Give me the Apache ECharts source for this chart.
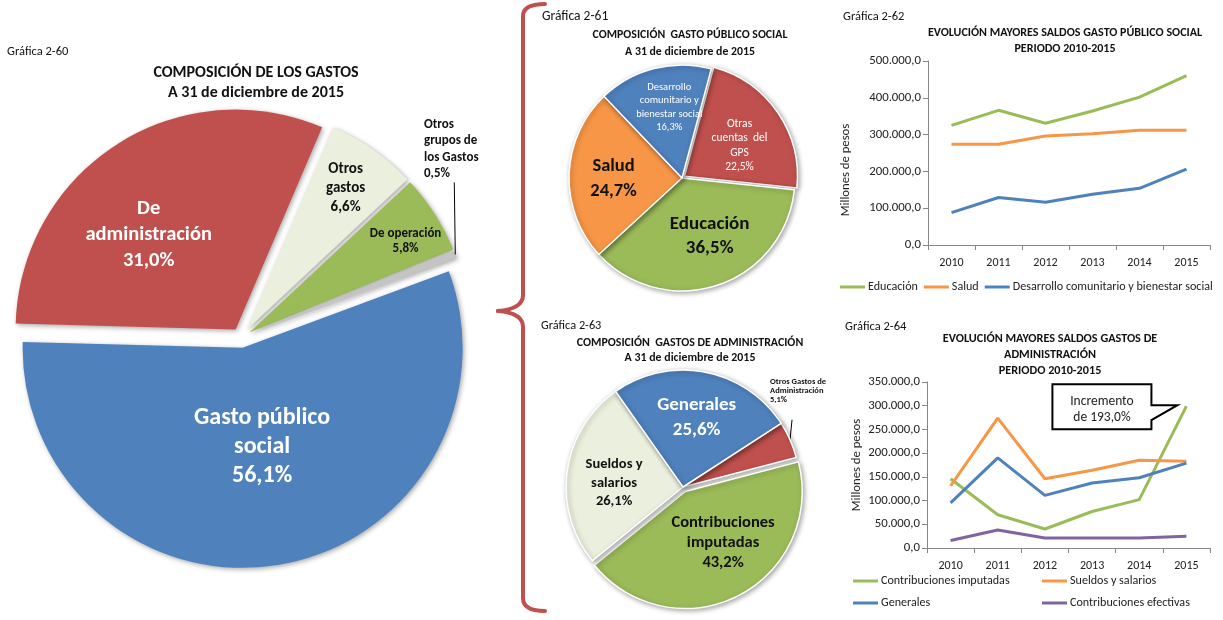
<!DOCTYPE html>
<html>
<head>
<meta charset="utf-8">
<script src="https://cdn.jsdelivr.net/npm/echarts@6/dist/echarts.min.js"></script>
<style>
  html, body { margin: 0; padding: 0; background: #fff; }
  #chart { width: 1223px; height: 620px; }
</style>
</head>
<body>
<div id="chart"></div>
<script>
// ---- Gráfica 2-60: composición de los gastos (%)
const gastosNombres = ['Gasto público social', 'De administración', 'Otros gastos', 'De operación', 'Otros grupos de los Gastos'];
const gastosEtiquetas = ['Gasto público\nsocial', 'De\nadministración', 'Otros\ngastos', 'De operación', 'Otros\ngrupos de\nlos Gastos'];
const gastosPct = [56.1, 31.0, 6.6, 5.8, 0.5];

// ---- Gráfica 2-61: composición gasto público social (%)
const gpsNombres = ['Otras cuentas del GPS', 'Educación', 'Salud', 'Desarrollo comunitario y bienestar social'];
const gpsEtiquetas = ['Otras\ncuentas  del\nGPS', 'Educación', 'Salud', 'Desarrollo\ncomunitario y\nbienestar social'];
const gpsPct = [22.5, 36.5, 24.7, 16.3];

// ---- Gráfica 2-63: composición gastos de administración (%)
const admNombres = ['Otros Gastos de Administración', 'Contribuciones imputadas', 'Sueldos y salarios', 'Generales'];
const admEtiquetas = ['Otros Gastos de\nAdministración', 'Contribuciones\nimputadas', 'Sueldos y\nsalarios', 'Generales'];
const admPct = [5.1, 43.2, 26.1, 25.6];

// ---- Años de las series
const anios = ['2010', '2011', '2012', '2013', '2014', '2015'];

// ---- Gráfica 2-62: mayores saldos gasto público social (millones de pesos)
const educacion = [325000, 366000, 331000, 364000, 402000, 460000];
const salud = [274000, 274000, 296000, 302000, 312000, 312000];
const desarrollo = [88000, 129000, 116000, 138000, 154000, 206000];

// ---- Gráfica 2-64: mayores saldos gastos de administración (millones de pesos)
const contribImputadas = [146000, 70000, 40000, 77000, 102000, 299000];
const sueldosSalarios = [131000, 274000, 146000, 164000, 185000, 183000];
const generales = [95000, 190000, 111000, 137000, 148000, 179000];
const contribEfectivas = [16000, 38000, 21000, 21000, 21000, 25000];

// ---- Estilos
const FONT = 'Carlito, Lato, "Open Sans", sans-serif';
const VERDE = '#9BBB59', NARANJA = '#F79646', AZUL = '#4F81BD', ROJO = '#C0504D', MORADO = '#8064A2', CREMA = '#EBF0DE', GRIS = '#C4C4C4';

const pct = v => v.toFixed(1).replace('.', ',') + '%';
const miles = v => String(Math.round(v)).replace(/\B(?=(\d{3})+(?!\d))/g, '.') + ',0';

const sombra = { shadowBlur: 5, shadowColor: 'rgba(0,0,0,0.35)', shadowOffsetX: 1.5, shadowOffsetY: 1.5 };

// geometría de la torta principal
const TORTA1 = { center: [241, 338], radius: 220, startAngle: 20.4, offset: 10 };

// label style per slice
const gastosColores = [AZUL, ROJO, CREMA, VERDE, GRIS];
const gastosLabel = [
  { color: '#fff', fontSize: 24, lineHeight: 29 },
  { color: '#fff', fontSize: 20.5, lineHeight: 26 },
  { color: '#111', fontSize: 15, lineHeight: 19 },
  { color: '#111', fontSize: 13, lineHeight: 15.5 },
  { show: false }
];
const gastosDesplaz = [[1, -12], [-26, 0], [34, -49], [61, -30.5], [0, 0]];

const gpsColores = [ROJO, VERDE, NARANJA, AZUL];
const gpsLabel = [
  { color: '#fff', fontSize: 11.5, lineHeight: 14.5, fontWeight: 'normal' },
  { color: '#111', fontSize: 19, lineHeight: 24 },
  { color: '#111', fontSize: 18.5, lineHeight: 25 },
  { color: '#fff', fontSize: 10.5, lineHeight: 13.5, fontWeight: 'normal' }
];
const gpsDesplaz = [[6, 3], [9, 2], [-9, 2.5], [2, -13]];

const admColores = [ROJO, VERDE, CREMA, AZUL];
const admLabel = [
  { color: '#111', fontSize: 8.5, lineHeight: 8.8, position: 'outside' },
  { color: '#111', fontSize: 16.5, lineHeight: 20 },
  { color: '#111', fontSize: 14.5, lineHeight: 18.5 },
  { color: '#fff', fontSize: 19, lineHeight: 25 }
];
const admDesplaz = [[0, 0], [10, -3], [-8, 4.5], [2, -9]];

function datosPie(nombres, etiquetas, valores, colores, estilos, seleccion) {
  return nombres.map((n, i) => ({
    name: n,
    value: valores[i],
    selected: seleccion[i],
    itemStyle: { color: colores[i] },
    label: Object.assign({ formatter: etiquetas[i] + '\n' + pct(valores[i]) }, estilos[i]),
    labelLine: { show: estilos[i].position === 'outside', length: 10, length2: 0, lineStyle: { color: '#000', width: 1 } }
  }));
}

function titulo(x, y, texto, size, weight, lh) {
  return { text: texto, left: x, top: y, padding: 0, textAlign: weight === 'bold' ? 'center' : 'left',
    textStyle: { fontFamily: FONT, fontSize: size, fontWeight: weight, color: '#111', lineHeight: lh } };
}

// sets an outside label straight above the point where its leader leaves the slice
function etiquetaVertical(p, s, dx, subida, largo) {
  const r = p.labelRect;
  const fin = [s[0] + dx * 0.25, s[1] - largo];
  return {
    dx: (s[0] + dx) - (r.x + r.width / 2),
    dy: (s[1] - subida) - (r.y + r.height / 2),
    labelLinePoints: [s, fin, fin]
  };
}

const chart = echarts.init(document.getElementById('chart'), null, { renderer: 'canvas' });

const ejeX = (g) => ({
  type: 'category', gridIndex: g, data: anios, boundaryGap: true,
  axisLine: { lineStyle: { color: '#868686', width: 1 } },
  axisTick: { show: true, alignWithLabel: false, length: 5, lineStyle: { color: '#868686' } },
  axisLabel: { fontFamily: FONT, fontSize: 12, color: '#222', margin: 12 }
});
const ejeY = (g, max, step, gap, pad) => ({
  type: 'value', gridIndex: g, min: 0, max: max, interval: step,
  name: 'Millones de pesos', nameLocation: 'middle', nameGap: gap,
  nameTextStyle: { fontFamily: FONT, fontSize: 12.7, color: '#222', padding: pad },
  splitLine: { show: false },
  axisLine: { show: true, lineStyle: { color: '#868686', width: 1 } },
  axisTick: { show: true, length: 5, lineStyle: { color: '#868686' } },
  axisLabel: { fontFamily: FONT, fontSize: 12.8, color: '#222', margin: 7, formatter: miles }
});
const linea = (nombre, datos, color, g) => ({
  type: 'line', name: nombre, data: datos, xAxisIndex: g, yAxisIndex: g,
  showSymbol: false, symbol: 'none', smooth: false,
  lineStyle: { color: color, width: 3 }, itemStyle: { color: color },
  emphasis: { disabled: true }, z: 3
});
const leyenda = (items, x, y) => ({
  data: items, left: x, top: y, icon: 'rect', itemWidth: 25, itemHeight: 3, itemGap: 6,
  padding: 0, selectedMode: false,
  textStyle: { fontFamily: FONT, fontSize: 12.1, color: '#222', padding: [0, 0, 0, -2] }
});

// llave roja que agrupa las gráficas de la derecha
const trazoLlave = { fill: 'none', stroke: ROJO, lineWidth: 4, lineCap: 'round' };
const llave = {
  type: 'group', z: 10,
  children: [
    { type: 'bezierCurve', shape: { x1: 545, y1: 4, cpx1: 523, cpy1: 4, x2: 523, y2: 16 }, style: trazoLlave },
    { type: 'line', shape: { x1: 523, y1: 16, x2: 523, y2: 295 }, style: trazoLlave },
    { type: 'bezierCurve', shape: { x1: 523, y1: 295, cpx1: 523, cpy1: 309, x2: 498, y2: 311 }, style: trazoLlave },
    { type: 'bezierCurve', shape: { x1: 498, y1: 311, cpx1: 523, cpy1: 313, x2: 523, y2: 327 }, style: trazoLlave },
    { type: 'line', shape: { x1: 523, y1: 327, x2: 523, y2: 598 }, style: trazoLlave },
    { type: 'bezierCurve', shape: { x1: 523, y1: 598, cpx1: 523, cpy1: 611, x2: 545, y2: 611 }, style: trazoLlave }
  ]
};

const option = {
  animation: false,
  backgroundColor: '#fff',
  title: [
    titulo(7, 45, 'Gráfica 2-60', 12.5, 'normal'),
    titulo(256, 63, 'COMPOSICIÓN DE LOS GASTOS\nA 31 de diciembre de 2015', 16, 'bold', 20),
    titulo(542, 10, 'Gráfica 2-61', 13.5, 'normal'),
    titulo(690, 26.5, 'COMPOSICIÓN  GASTO PÚBLICO SOCIAL\nA 31 de diciembre de 2015', 11.8, 'bold', 17),
    titulo(843, 10, 'Gráfica 2-62', 12.5, 'normal'),
    titulo(1065, 25, 'EVOLUCIÓN MAYORES SALDOS GASTO PÚBLICO SOCIAL\nPERIODO 2010-2015', 12, 'bold', 16),
    titulo(541, 320, 'Gráfica 2-63', 12.3, 'normal'),
    titulo(690, 335, 'COMPOSICIÓN  GASTOS DE ADMINISTRACIÓN\nA 31 de diciembre de 2015', 11.9, 'bold', 15.5),
    titulo(845, 320, 'Gráfica 2-64', 12.5, 'normal'),
    titulo(1050, 331, 'EVOLUCIÓN MAYORES SALDOS GASTOS DE\nADMINISTRACIÓN\nPERIODO 2010-2015', 12.2, 'bold', 16)
  ],
  legend: [
    leyenda(['Educación', 'Salud', 'Desarrollo comunitario y bienestar social'], 840, 281),
    leyenda(['Contribuciones imputadas'], 853, 575),
    leyenda(['Sueldos y salarios'], 1042, 575),
    leyenda(['Generales'], 853, 597),
    leyenda(['Contribuciones efectivas'], 1042, 597)
  ],
  grid: [
    { left: 928, top: 61, width: 282, height: 184 },
    { left: 927, top: 382, width: 283, height: 166 }
  ],
  xAxis: [ejeX(0), ejeX(1)],
  yAxis: [ejeY(0, 500000, 100000, 76, [0, 34, 0, 0]), ejeY(1, 350000, 50000, 64, 0)],
  series: [
    {
      type: 'pie', name: 'Composición de los gastos',
      center: TORTA1.center, radius: TORTA1.radius, startAngle: TORTA1.startAngle, clockwise: true,
      selectedMode: 'multiple', selectedOffset: TORTA1.offset, avoidLabelOverlap: false,
      emphasis: { disabled: true },
      select: { itemStyle: { borderColor: '#fff', borderWidth: 0 } },
      itemStyle: Object.assign({ borderColor: '#fff', borderWidth: 0 }, sombra),
      label: { position: 'inside', fontFamily: FONT, fontWeight: 'bold', align: 'center' },
      labelLayout: function (p) {
        const d = gastosDesplaz[p.dataIndex];
        return { dx: d[0], dy: d[1] };
      },
      data: datosPie(gastosNombres, gastosEtiquetas, gastosPct, gastosColores, gastosLabel, [true, true, true, true, true])
    },
    {
      // capa de rótulo exterior para la porción más pequeña de la torta principal
      type: 'pie', name: 'Otros grupos de los Gastos', silent: true,
      center: TORTA1.center, radius: TORTA1.radius, startAngle: TORTA1.startAngle, clockwise: true,
      avoidLabelOverlap: false, z: 4,
      itemStyle: { color: 'rgba(0,0,0,0)' },
      label: { show: false },
      labelLine: { show: false },
      labelLayout: function (p) {
        if (!p.labelLinePoints) return {};
        const s0 = p.labelLinePoints[0];
        const vx = s0[0] - TORTA1.center[0], vy = s0[1] - TORTA1.center[1];
        const n = Math.sqrt(vx * vx + vy * vy);
        const s = [s0[0] + vx / n * TORTA1.offset, s0[1] + vy / n * TORTA1.offset];
        return etiquetaVertical(p, s, -4, 105, 72);
      },
      data: gastosNombres.map((n, i) => ({
        name: n, value: gastosPct[i],
        label: i === 4 ? { show: true, position: 'outside', formatter: gastosEtiquetas[i] + '\n' + pct(gastosPct[i]),
          fontFamily: FONT, fontWeight: 'bold', fontSize: 13, lineHeight: 16.5, color: '#111', align: 'center' } : { show: false },
        labelLine: { show: i === 4, length: 10, length2: 0, lineStyle: { color: '#000', width: 1 } }
      }))
    },
    {
      type: 'pie', name: 'Composición gasto público social',
      center: [682, 178], radius: 113, startAngle: 75, clockwise: true,
      selectedMode: 'multiple', selectedOffset: 3, avoidLabelOverlap: false,
      emphasis: { disabled: true },
      select: { itemStyle: { borderColor: '#fff', borderWidth: 1.5 } },
      itemStyle: Object.assign({ borderColor: '#fff', borderWidth: 1.5 }, sombra),
      label: { position: 'inside', fontFamily: FONT, fontWeight: 'bold', align: 'center' },
      labelLayout: function (p) {
        const d = gpsDesplaz[p.dataIndex];
        return { dx: d[0], dy: d[1] };
      },
      data: datosPie(gpsNombres, gpsEtiquetas, gpsPct, gpsColores, gpsLabel, [true, false, false, false])
    },
    {
      type: 'pie', name: 'Composición gastos de administración',
      center: [683, 487], radius: 117, startAngle: 33, clockwise: true,
      selectedMode: 'multiple', selectedOffset: 5, avoidLabelOverlap: false,
      emphasis: { disabled: true },
      select: { itemStyle: { borderColor: '#fff', borderWidth: 1.5 } },
      itemStyle: Object.assign({ borderColor: '#fff', borderWidth: 1.5 }, sombra),
      label: { position: 'inside', fontFamily: FONT, fontWeight: 'bold', align: 'center' },
      labelLayout: function (p) {
        if (p.dataIndex === 0 && p.labelLinePoints) return etiquetaVertical(p, p.labelLinePoints[0], 8, 49, 20);
        const d = admDesplaz[p.dataIndex];
        return { dx: d[0], dy: d[1] };
      },
      data: datosPie(admNombres, admEtiquetas, admPct, admColores, admLabel, [false, true, false, false])
    },
    linea('Educación', educacion, VERDE, 0),
    linea('Salud', salud, NARANJA, 0),
    linea('Desarrollo comunitario y bienestar social', desarrollo, AZUL, 0),
    linea('Contribuciones imputadas', contribImputadas, VERDE, 1),
    linea('Sueldos y salarios', sueldosSalarios, NARANJA, 1),
    linea('Generales', generales, AZUL, 1),
    linea('Contribuciones efectivas', contribEfectivas, MORADO, 1)
  ],
  graphic: [llave]
};

chart.setOption(option);

// recuadro "Incremento" apuntando al saldo 2015 de contribuciones imputadas
const ultimo = contribImputadas.length - 1;
const punta = chart.convertToPixel({ gridIndex: 1 }, [anios[ultimo], contribImputadas[ultimo]]);
const tx = punta[0] - 9, ty = punta[1] - 1;
const R = tx - 26, L = R - 99, T = ty - 21, B = ty + 24;
const zr = chart.getZr();
zr.add(new echarts.graphic.Polygon({
  z: 100,
  shape: { points: [[L, T], [R, T], [R, ty], [tx, ty], [R, ty + 15], [R, B], [L, B]] },
  style: { fill: '#fff', stroke: '#000', lineWidth: 2 }
}));
zr.add(new echarts.graphic.Text({
  z: 101, x: (L + R) / 2, y: (T + B) / 2 + 3,
  style: { text: 'Incremento\nde 193,0%', fontFamily: FONT, fontSize: 13.5, lineHeight: 16,
    fill: '#222', align: 'center', verticalAlign: 'middle' }
}));
</script>
</body>
</html>
